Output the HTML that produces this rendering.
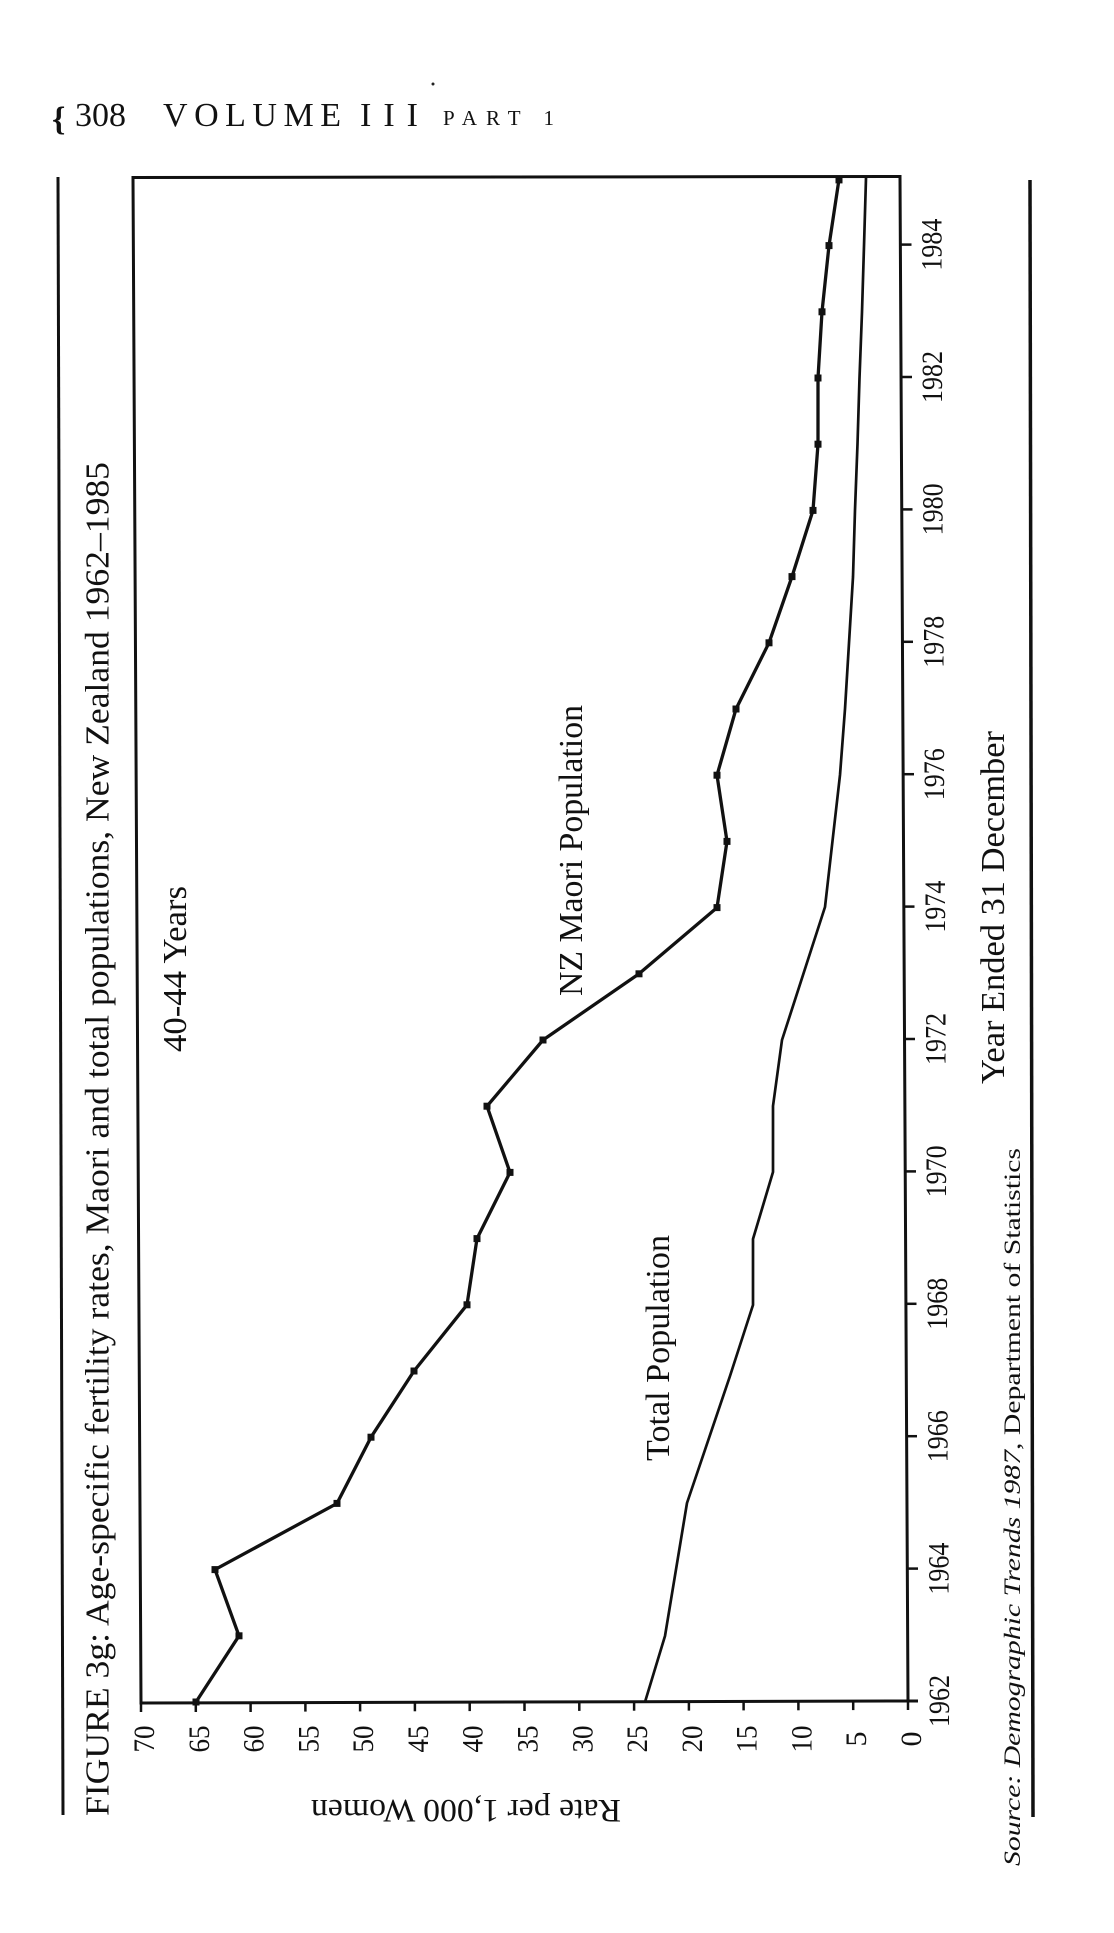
<!DOCTYPE html>
<html>
<head>
<meta charset="utf-8">
<style>
  html, body { margin: 0; padding: 0; background: #fff; }
  body { width: 1114px; height: 1933px; overflow: hidden; }
  svg { display: block; }
  text { font-family: "Liberation Serif", "DejaVu Serif", serif; fill: #111; }
</style>
</head>
<body>
<svg width="1114" height="1933" viewBox="0 0 1114 1933" xmlns="http://www.w3.org/2000/svg">
  <rect x="0" y="0" width="1114" height="1933" fill="#fff"/>

  <!-- Header -->
  <text x="52" y="130" font-size="34" font-weight="bold">{</text>
  <text x="75" y="126" font-size="34" textLength="51" lengthAdjust="spacingAndGlyphs">308</text>
  <text x="163" y="126" font-size="34" textLength="178" lengthAdjust="spacing">VOLUME</text>
  <text x="360" y="126" font-size="34" textLength="58" lengthAdjust="spacing">III</text>
  <text x="443" y="125" font-size="21" textLength="111" lengthAdjust="spacing">PART 1</text>
  <circle cx="433" cy="84" r="1.5" fill="#222"/>

  <!-- Page rules -->
  <line x1="58" y1="177" x2="63" y2="1815" stroke="#111" stroke-width="3"/>
  <line x1="1030" y1="180" x2="1033" y2="1817" stroke="#111" stroke-width="3.5"/>

  <!-- Title (rotated, reading bottom to top) -->
  <text transform="translate(108.5,1816) rotate(-90)" font-size="34" textLength="1354" lengthAdjust="spacingAndGlyphs">FIGURE 3g: Age-specific fertility rates, Maori and total populations, New Zealand 1962–1985</text>

  <!-- Plot frame -->
  <polygon points="133,177.5 900,176.5 908,1701 141,1703" fill="none" stroke="#111" stroke-width="3" stroke-linejoin="miter"/>
  <!-- extension of bottom axis (1962 tick) -->
  <line x1="906" y1="1701" x2="918" y2="1701" stroke="#111" stroke-width="3"/>

  <!-- Value ticks & labels (bottom axis) -->
  <g stroke="#111" stroke-width="2.5">
    <line x1="141" y1="1703" x2="141" y2="1712"/>
    <line x1="195.8" y1="1703" x2="195.8" y2="1712"/>
    <line x1="250.6" y1="1703" x2="250.6" y2="1712"/>
    <line x1="305.4" y1="1702.6" x2="305.4" y2="1711.6"/>
    <line x1="360.1" y1="1702.4" x2="360.1" y2="1711.4"/>
    <line x1="414.9" y1="1702.3" x2="414.9" y2="1711.3"/>
    <line x1="469.7" y1="1702.1" x2="469.7" y2="1711.1"/>
    <line x1="524.5" y1="1702" x2="524.5" y2="1711"/>
    <line x1="579.3" y1="1701.9" x2="579.3" y2="1710.9"/>
    <line x1="634.1" y1="1701.7" x2="634.1" y2="1710.7"/>
    <line x1="688.9" y1="1701.6" x2="688.9" y2="1710.6"/>
    <line x1="743.6" y1="1701.4" x2="743.6" y2="1710.4"/>
    <line x1="798.4" y1="1701.3" x2="798.4" y2="1710.3"/>
    <line x1="853.2" y1="1701.1" x2="853.2" y2="1710.1"/>
    <line x1="908" y1="1701" x2="908" y2="1710"/>
  </g>
  <g font-size="30" text-anchor="middle">
    <text transform="translate(154,1739) rotate(-90)" textLength="27" lengthAdjust="spacingAndGlyphs">70</text>
    <text transform="translate(208.8,1739) rotate(-90)" textLength="27" lengthAdjust="spacingAndGlyphs">65</text>
    <text transform="translate(263.6,1739) rotate(-90)" textLength="27" lengthAdjust="spacingAndGlyphs">60</text>
    <text transform="translate(318.4,1739) rotate(-90)" textLength="27" lengthAdjust="spacingAndGlyphs">55</text>
    <text transform="translate(373.1,1739) rotate(-90)" textLength="27" lengthAdjust="spacingAndGlyphs">50</text>
    <text transform="translate(427.9,1739) rotate(-90)" textLength="27" lengthAdjust="spacingAndGlyphs">45</text>
    <text transform="translate(482.7,1739) rotate(-90)" textLength="27" lengthAdjust="spacingAndGlyphs">40</text>
    <text transform="translate(537.5,1739) rotate(-90)" textLength="27" lengthAdjust="spacingAndGlyphs">35</text>
    <text transform="translate(592.3,1739) rotate(-90)" textLength="27" lengthAdjust="spacingAndGlyphs">30</text>
    <text transform="translate(647.1,1739) rotate(-90)" textLength="27" lengthAdjust="spacingAndGlyphs">25</text>
    <text transform="translate(701.9,1739) rotate(-90)" textLength="27" lengthAdjust="spacingAndGlyphs">20</text>
    <text transform="translate(756.6,1739) rotate(-90)" textLength="27" lengthAdjust="spacingAndGlyphs">15</text>
    <text transform="translate(811.4,1739) rotate(-90)" textLength="27" lengthAdjust="spacingAndGlyphs">10</text>
    <text transform="translate(866.2,1739) rotate(-90)">5</text>
    <text transform="translate(921,1739) rotate(-90)">0</text>
  </g>

  <!-- Year ticks (right border) -->
  <g stroke="#111" stroke-width="2.5">
    <line x1="907.3" y1="1568.6" x2="918" y2="1568.6"/>
    <line x1="906.6" y1="1436.2" x2="917" y2="1436.2"/>
    <line x1="905.9" y1="1303.8" x2="916.5" y2="1303.8"/>
    <line x1="905.2" y1="1171.4" x2="916" y2="1171.4"/>
    <line x1="904.5" y1="1039" x2="915" y2="1039"/>
    <line x1="903.8" y1="906.6" x2="914.5" y2="906.6"/>
    <line x1="903.1" y1="774.2" x2="914" y2="774.2"/>
    <line x1="902.4" y1="641.8" x2="913" y2="641.8"/>
    <line x1="901.7" y1="509.4" x2="912.5" y2="509.4"/>
    <line x1="901" y1="377" x2="912" y2="377"/>
    <line x1="900.4" y1="244.6" x2="911.5" y2="244.6"/>
  </g>
  <g font-size="30" text-anchor="middle">
    <text transform="translate(949,1701) rotate(-90)" textLength="52" lengthAdjust="spacingAndGlyphs">1962</text>
    <text transform="translate(948.3,1568.6) rotate(-90)" textLength="52" lengthAdjust="spacingAndGlyphs">1964</text>
    <text transform="translate(947.6,1436.2) rotate(-90)" textLength="52" lengthAdjust="spacingAndGlyphs">1966</text>
    <text transform="translate(946.9,1303.8) rotate(-90)" textLength="52" lengthAdjust="spacingAndGlyphs">1968</text>
    <text transform="translate(946.2,1171.4) rotate(-90)" textLength="52" lengthAdjust="spacingAndGlyphs">1970</text>
    <text transform="translate(945.5,1039) rotate(-90)" textLength="52" lengthAdjust="spacingAndGlyphs">1972</text>
    <text transform="translate(944.8,906.6) rotate(-90)" textLength="52" lengthAdjust="spacingAndGlyphs">1974</text>
    <text transform="translate(944.1,774.2) rotate(-90)" textLength="52" lengthAdjust="spacingAndGlyphs">1976</text>
    <text transform="translate(943.4,641.8) rotate(-90)" textLength="52" lengthAdjust="spacingAndGlyphs">1978</text>
    <text transform="translate(942.7,509.4) rotate(-90)" textLength="52" lengthAdjust="spacingAndGlyphs">1980</text>
    <text transform="translate(942,377) rotate(-90)" textLength="52" lengthAdjust="spacingAndGlyphs">1982</text>
    <text transform="translate(941.4,244.6) rotate(-90)" textLength="52" lengthAdjust="spacingAndGlyphs">1984</text>
  </g>

  <!-- Total population line -->
  <polyline fill="none" stroke="#111" stroke-width="2.7" stroke-linejoin="round"
    points="645,1702 665,1636 687,1503 730,1376 753,1305 753,1239 773,1172 773,1106 782,1040 825,907 840,775 845,709 849,643 853,577 855,510 857.5,444 859.5,378 862,312 864,246 866,178"/>

  <!-- NZ Maori line -->
  <polyline fill="none" stroke="#111" stroke-width="3.3" stroke-linejoin="round"
    points="196,1702 239,1635.8 215,1569.6 337,1503.4 371,1437.2 414,1371 467,1304.8 477,1238.6 510,1172.4 487,1106.2 543,1040 639,973.8 717,907.6 727,841.4 717,775.2 736,709 769,642.8 792,576.6 813,510.4 818,444.2 818,378 822,311.8 829,245.6 839,179.4"/>
  <g fill="#111">
    <rect x="192.5" y="1698.5" width="7" height="7"/>
    <rect x="235.5" y="1632.3" width="7" height="7"/>
    <rect x="211.5" y="1566.1" width="7" height="7"/>
    <rect x="333.5" y="1499.9" width="7" height="7"/>
    <rect x="367.5" y="1433.7" width="7" height="7"/>
    <rect x="410.5" y="1367.5" width="7" height="7"/>
    <rect x="463.5" y="1301.3" width="7" height="7"/>
    <rect x="473.5" y="1235.1" width="7" height="7"/>
    <rect x="506.5" y="1168.9" width="7" height="7"/>
    <rect x="483.5" y="1102.7" width="7" height="7"/>
    <rect x="539.5" y="1036.5" width="7" height="7"/>
    <rect x="635.5" y="970.3" width="7" height="7"/>
    <rect x="713.5" y="904.1" width="7" height="7"/>
    <rect x="723.5" y="837.9" width="7" height="7"/>
    <rect x="713.5" y="771.7" width="7" height="7"/>
    <rect x="732.5" y="705.5" width="7" height="7"/>
    <rect x="765.5" y="639.3" width="7" height="7"/>
    <rect x="788.5" y="573.1" width="7" height="7"/>
    <rect x="809.5" y="506.9" width="7" height="7"/>
    <rect x="814.5" y="440.7" width="7" height="7"/>
    <rect x="814.5" y="374.5" width="7" height="7"/>
    <rect x="818.5" y="308.3" width="7" height="7"/>
    <rect x="825.5" y="242.1" width="7" height="7"/>
    <rect x="835.5" y="177.4" width="7" height="6"/>
  </g>

  <!-- In-plot labels -->
  <text transform="translate(186,1052) rotate(-90)" font-size="34" textLength="166" lengthAdjust="spacingAndGlyphs">40-44 Years</text>
  <text transform="translate(582,996) rotate(-90)" font-size="34" textLength="291" lengthAdjust="spacingAndGlyphs">NZ Maori Population</text>
  <text transform="translate(669,1461) rotate(-90)" font-size="34" textLength="226" lengthAdjust="spacingAndGlyphs">Total Population</text>

  <!-- Axis titles -->
  <text transform="translate(621,1800) rotate(180)" font-size="33" textLength="310" lengthAdjust="spacingAndGlyphs">Rate per 1,000 Women</text>
  <text transform="translate(1004,1084) rotate(-90)" font-size="34" textLength="353" lengthAdjust="spacingAndGlyphs">Year Ended 31 December</text>

  <!-- Source -->
  <text transform="translate(1020,1866) rotate(-90)" font-size="23" textLength="718" lengthAdjust="spacingAndGlyphs"><tspan font-style="italic">Source: Demographic Trends 1987</tspan>, Department of Statistics</text>
</svg>
</body>
</html>
